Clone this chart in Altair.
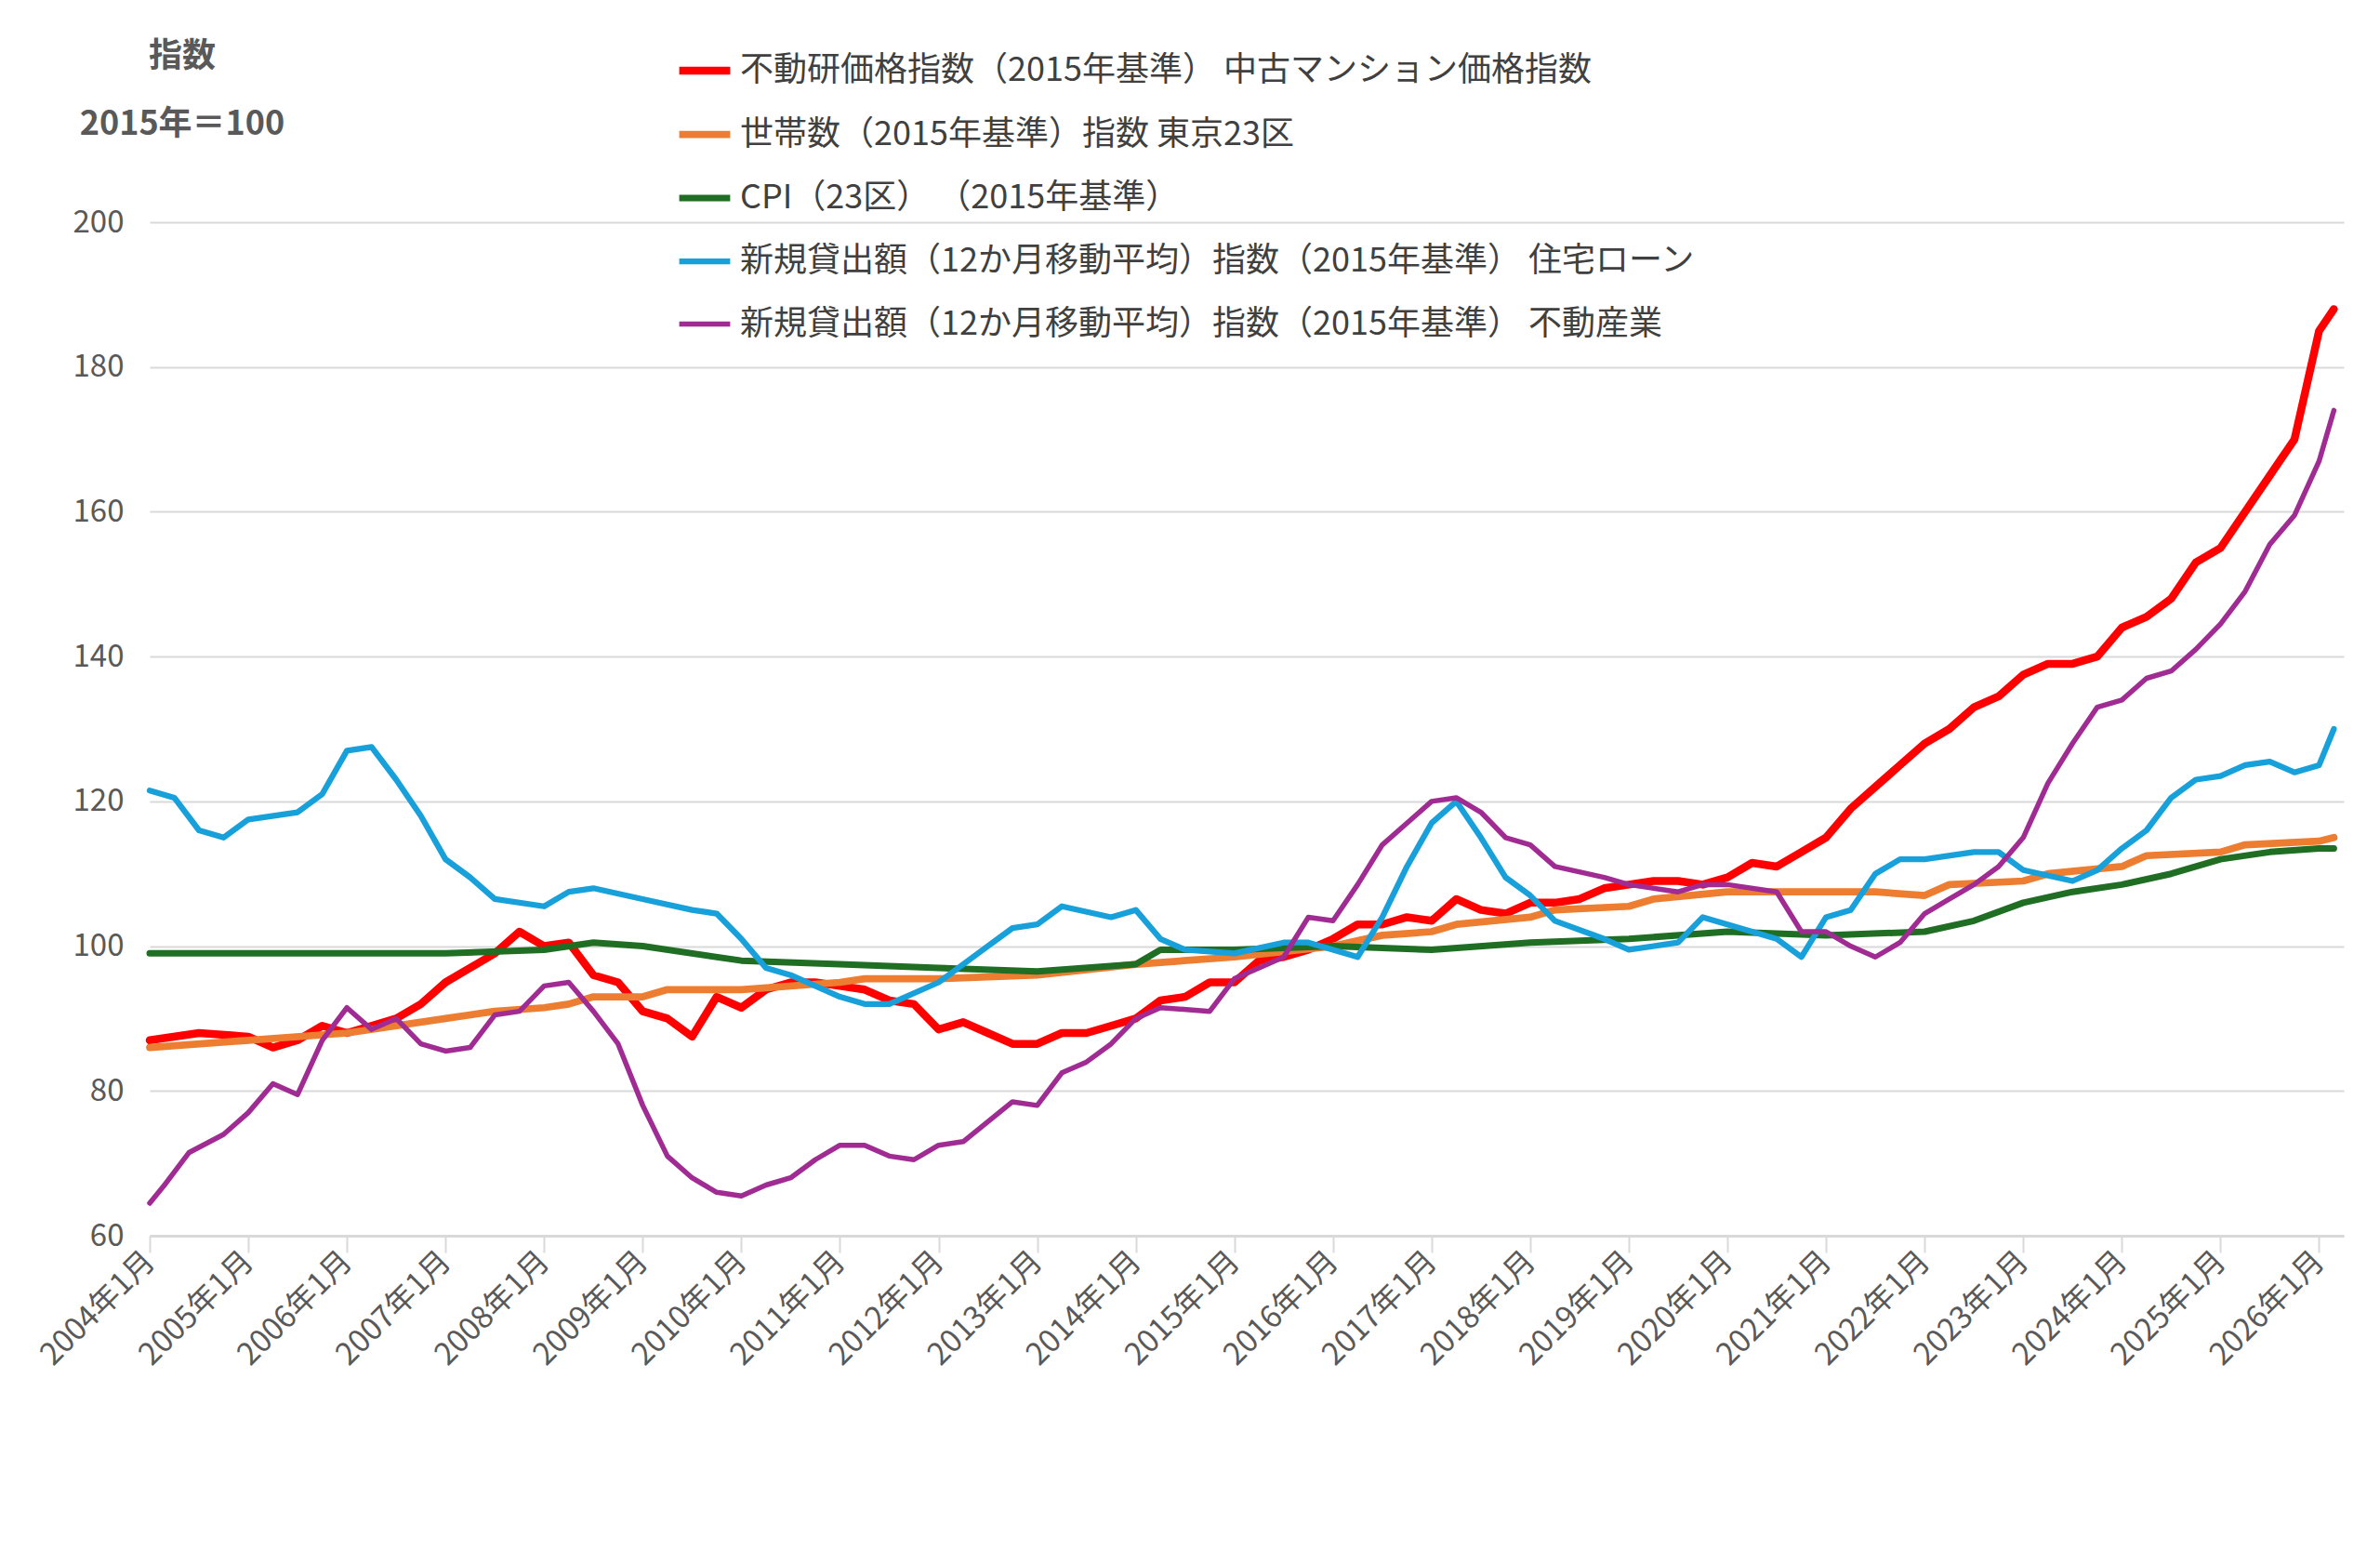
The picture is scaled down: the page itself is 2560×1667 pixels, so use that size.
import altair as alt
import pandas as pd

FONT = "Noto Sans CJK JP"

names = [
    "不動研価格指数（2015年基準） 中古マンション価格指数",
    "世帯数（2015年基準）指数 東京23区",
    "CPI（23区） （2015年基準）",
    "新規貸出額（12か月移動平均）指数（2015年基準） 住宅ローン",
    "新規貸出額（12か月移動平均）指数（2015年基準） 不動産業",
]
colors = ["#FF0000", "#ED7D31", "#1F6E23", "#17A0DA", "#A02B93"]
widths = [8.5, 5.5, 5.5, 5.5, 5.5]

red_t = [2004.0, 2004.5, 2005.0, 2005.25, 2005.5, 2005.75, 2006.0, 2006.25, 2006.5, 2006.75,
         2007.0, 2007.25, 2007.5, 2007.75, 2008.0, 2008.25, 2008.5, 2008.75, 2009.0, 2009.25,
         2009.5, 2009.75, 2010.0, 2010.25, 2010.5, 2010.75, 2011.0, 2011.25, 2011.5, 2011.75,
         2012.0, 2012.25, 2012.5, 2012.75, 2013.0, 2013.25, 2013.5, 2013.75, 2014.0, 2014.25,
         2014.5, 2014.75, 2015.0, 2015.25, 2015.5, 2015.75, 2016.0, 2016.25, 2016.5, 2016.75,
         2017.0, 2017.25, 2017.5, 2017.75, 2018.0, 2018.25, 2018.5, 2018.75, 2019.0, 2019.25,
         2019.5, 2019.75, 2020.0, 2020.25, 2020.5, 2020.75, 2021.0, 2021.25, 2021.5, 2021.75,
         2022.0, 2022.25, 2022.5, 2022.75, 2023.0, 2023.25, 2023.5, 2023.75, 2024.0, 2024.25,
         2024.5, 2024.75, 2025.0, 2025.25, 2025.5, 2025.75, 2026.0, 2026.15]
red_v = [87, 88, 87.5, 86, 87, 89, 88, 89, 90, 92,
         95, 97, 99, 102, 100, 100.5, 96, 95, 91, 90,
         87.5, 93, 91.5, 94, 95, 95, 94.5, 94, 92.5, 92,
         88.5, 89.5, 88, 86.5, 86.5, 88, 88, 89, 90, 92.5,
         93, 95, 95, 98, 98.5, 99.5, 101, 103, 103, 104,
         103.5, 106.5, 105, 104.5, 106, 106, 106.5, 108, 108.5, 109,
         109, 108.5, 109.5, 111.5, 111, 113, 115, 119, 122, 125,
         128, 130, 133, 134.5, 137.5, 139, 139, 140, 144, 145.5,
         148, 153, 155, 160, 165, 170, 185, 188]

orange_t = [2004.0, 2005.0, 2006.0, 2007.0, 2007.5, 2008.0, 2008.25, 2008.5, 2009.0, 2009.25,
            2010.0, 2011.0, 2011.25, 2012.0, 2013.0, 2014.0, 2015.0, 2016.0, 2016.5, 2017.0,
            2017.25, 2018.0, 2018.25, 2019.0, 2019.25, 2020.0, 2020.25, 2021.0, 2021.5, 2022.0,
            2022.25, 2023.0, 2023.25, 2024.0, 2024.25, 2025.0, 2025.25, 2026.0, 2026.15]
orange_v = [86, 87, 88, 90, 91, 91.5, 92, 93, 93, 94,
            94, 95, 95.5, 95.5, 96, 97.5, 98.5, 100, 101.5, 102,
            103, 104, 105, 105.5, 106.5, 107.5, 107.5, 107.5, 107.5, 107,
            108.5, 109, 110, 111, 112.5, 113, 114, 114.5, 115]

green_t = [2004.0, 2005.0, 2006.0, 2007.0, 2008.0, 2008.5, 2009.0, 2010.0, 2011.0, 2012.0,
           2013.0, 2014.0, 2014.25, 2015.0, 2016.0, 2017.0, 2018.0, 2019.0, 2020.0, 2021.0,
           2022.0, 2022.5, 2023.0, 2023.5, 2024.0, 2024.5, 2025.0, 2025.5, 2026.0, 2026.15]
green_v = [99, 99, 99, 99, 99.5, 100.5, 100, 98, 97.5, 97,
           96.5, 97.5, 99.5, 99.5, 100, 99.5, 100.5, 101, 102, 101.5,
           102, 103.5, 106, 107.5, 108.5, 110, 112, 113, 113.5, 113.5]

blue_t = [2004.0, 2004.25, 2004.5, 2004.75, 2005.0, 2005.5, 2005.75, 2006.0, 2006.25, 2006.5,
          2006.75, 2007.0, 2007.25, 2007.5, 2008.0, 2008.25, 2008.5, 2009.0, 2009.5, 2009.75,
          2010.0, 2010.25, 2010.5, 2011.0, 2011.25, 2011.5, 2012.0, 2012.5, 2012.75, 2013.0,
          2013.25, 2013.75, 2014.0, 2014.25, 2014.5, 2015.0, 2015.5, 2015.75, 2016.0, 2016.25,
          2016.5, 2016.75, 2017.0, 2017.25, 2017.5, 2017.75, 2018.0, 2018.25, 2018.75, 2019.0,
          2019.5, 2019.75, 2020.0, 2020.5, 2020.75, 2021.0, 2021.25, 2021.5, 2021.75, 2022.0,
          2022.5, 2022.75, 2023.0, 2023.5, 2023.75, 2024.0, 2024.25, 2024.5, 2024.75, 2025.0,
          2025.25, 2025.5, 2025.75, 2026.0, 2026.15]
blue_v = [121.5, 120.5, 116, 115, 117.5, 118.5, 121, 127, 127.5, 123,
          118, 112, 109.5, 106.5, 105.5, 107.5, 108, 106.5, 105, 104.5,
          101, 97, 96, 93, 92, 92, 95, 100, 102.5, 103,
          105.5, 104, 105, 101, 99.5, 99, 100.5, 100.5, 99.5, 98.5,
          104, 111, 117, 120, 115, 109.5, 107, 103.5, 101, 99.5,
          100.5, 104, 103, 101, 98.5, 104, 105, 110, 112, 112,
          113, 113, 110.5, 109, 110.5, 113.5, 116, 120.5, 123, 123.5,
          125, 125.5, 124, 125, 130]

purple_t = [2004.0, 2004.15, 2004.4, 2004.75, 2005.0, 2005.25, 2005.5, 2005.75, 2006.0, 2006.25,
            2006.5, 2006.75, 2007.0, 2007.25, 2007.5, 2007.75, 2008.0, 2008.25, 2008.5, 2008.75,
            2009.0, 2009.25, 2009.5, 2009.75, 2010.0, 2010.25, 2010.5, 2010.75, 2011.0, 2011.25,
            2011.5, 2011.75, 2012.0, 2012.25, 2012.75, 2013.0, 2013.25, 2013.5, 2013.75, 2014.0,
            2014.25, 2014.75, 2015.0, 2015.25, 2015.5, 2015.75, 2016.0, 2016.25, 2016.5, 2016.75,
            2017.0, 2017.25, 2017.5, 2017.75, 2018.0, 2018.25, 2018.75, 2019.0, 2019.5, 2019.75,
            2020.0, 2020.5, 2020.75, 2021.0, 2021.25, 2021.5, 2021.75, 2022.0, 2022.25, 2022.5,
            2022.75, 2023.0, 2023.25, 2023.5, 2023.75, 2024.0, 2024.25, 2024.5, 2024.75, 2025.0,
            2025.25, 2025.5, 2025.75, 2026.0, 2026.15]
purple_v = [64.5, 67, 71.5, 74, 77, 81, 79.5, 87, 91.5, 88.5,
            90, 86.5, 85.5, 86, 90.5, 91, 94.5, 95, 91, 86.5,
            78, 71, 68, 66, 65.5, 67, 68, 70.5, 72.5, 72.5,
            71, 70.5, 72.5, 73, 78.5, 78, 82.5, 84, 86.5, 90,
            91.5, 91, 95.5, 97, 98.5, 104, 103.5, 108.5, 114, 117,
            120, 120.5, 118.5, 115, 114, 111, 109.5, 108.5, 107.5, 108.5,
            108.5, 107.5, 102, 102, 100, 98.5, 100.5, 104.5, 106.5, 108.5,
            111, 115, 122.5, 128, 133, 134, 137, 138, 141, 144.5,
            149, 155.5, 159.5, 167, 174]

series = [(red_t, red_v), (orange_t, orange_v), (green_t, green_v),
          (blue_t, blue_v), (purple_t, purple_v)]
rows = []
for i, (ts, vs) in enumerate(series):
    for t, v in zip(ts, vs):
        rows.append({"t": t, "v": v, "s": names[i], "o": i})
df = pd.DataFrame(rows)

years = list(range(2004, 2027))

lines = alt.Chart(df).mark_line(strokeJoin="round", strokeCap="round").encode(
    x=alt.X("t:Q", scale=alt.Scale(domain=[2004, 2026.25], nice=False, zero=False),
            axis=alt.Axis(values=years, labelExpr="datum.value + '年1月'", title=None,
                          grid=False, labelAngle=-45, labelAlign="right", labelBaseline="middle",
                          labelFontSize=33, labelColor="#595959", labelFont=FONT,
                          labelOverlap=False, labelBound=False,
                          tickColor="#D9D9D9", tickSize=18, tickWidth=2, labelPadding=4,
                          domainColor="#D9D9D9", domainWidth=3)),
    y=alt.Y("v:Q", scale=alt.Scale(domain=[60, 200], nice=False, zero=False),
            axis=alt.Axis(values=list(range(60, 201, 20)), title=None, domain=False, ticks=False,
                          gridColor="#D9D9D9", gridWidth=2, labelFontSize=33,
                          labelColor="#595959", labelFont=FONT, labelPadding=28)),
    color=alt.Color("s:N", sort=names, scale=alt.Scale(domain=names, range=colors),
                    legend=alt.Legend(orient="none", legendX=565, legendY=-195, title=None,
                                      symbolType="stroke", symbolStrokeWidth=8,
                                      symbolSize=3000, labelFontSize=36, labelFont=FONT,
                                      labelColor="#404040", rowPadding=19, labelLimit=1500,
                                      labelOffset=6)),
    strokeWidth=alt.StrokeWidth("s:N", sort=names,
                                scale=alt.Scale(domain=names, range=widths), legend=None),
    order=alt.Order("o:Q", sort="descending"),
    detail="s:N",
)

titles = pd.DataFrame({"txt": ["指数", "2015年＝100"], "xp": [35, 35], "yp": [-178, -105]})
title_marks = alt.Chart(titles).mark_text(fontSize=36, fontWeight="bold", font=FONT,
                                          color="#595959", align="center").encode(
    text="txt:N", x=alt.X("xp:Q", scale=None), y=alt.Y("yp:Q", scale=None))

chart = alt.layer(lines, title_marks).resolve_scale(x="independent", y="independent").properties(
    width=2360, height=1090, background="white",
    padding={"left": 30, "top": 35, "right": 20, "bottom": 10},
).configure_view(stroke=None)

chart.save("out.html", embed_options={"renderer": "svg", "actions": False})
